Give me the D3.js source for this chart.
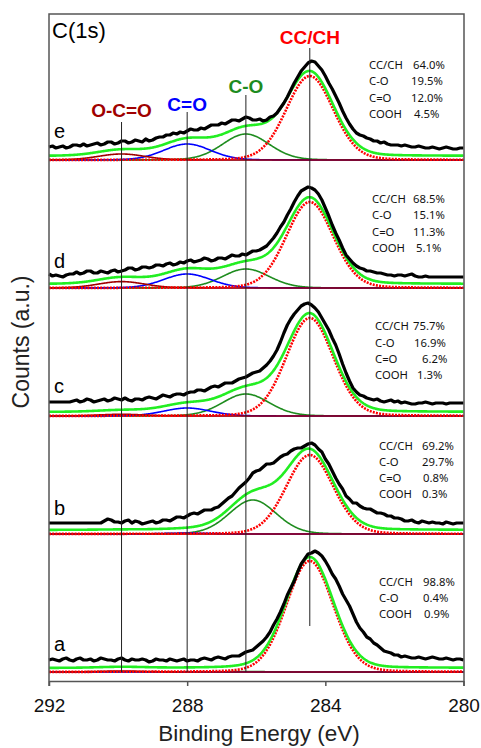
<!DOCTYPE html>
<html>
<head>
<meta charset="utf-8">
<script src="https://cdn.jsdelivr.net/npm/d3@7"></script>
<style>
  body { margin: 0; background: #fff; }
  svg { display: block; }
</style>
</head>
<body>
<svg width="481" height="748"></svg>
<script>
// ---------------- data ----------------
const panels = ["a", "b", "c", "d", "e"];

// measured C(1s) spectra, counts above each panel's baseline, 292 -> 280 eV every 0.1 eV
const energyStart = 292, energyStep = -0.1;
const countsA = [12,13,12,11,13,14,12,11,13,14, 12,12,13,11,12,14,13,12,12,11,
  13,14,12,11,13,12,12,13,12,10, 11,13,12,12,11,13,12,11,12,13,
  11,12,12,11,13,14,13,12,14,15, 14,13,15,16,16,16,18,20,21,22,
  25,28,31,35,40,47,53,60,68,77, 84,91,100,108,113,118,119,121,119,116,
  111,105,98,93,86,78,72,66,58,50, 44,40,35,33,29,27,24,21,20,19,
  17,17,15,16,15,14,14,15,14,13, 14,15,14,13,13,14,13,12,13,13, 12];
const countsB = [11,11,11,11,11,11,11,11,11,11, 11,11,11,11,11,11,13,15,14,12,
  12,11,13,14,11,13,12,10,11,12, 13,11,12,14,14,13,15,17,17,16,
  18,20,21,20,22,24,24,24,26,27, 30,33,36,38,42,46,49,52,56,61,
  63,64,67,70,70,71,74,77,79,80, 83,85,86,86,88,90,91,89,85,82,
  75,70,63,56,50,45,38,35,31,31, 28,26,25,25,23,21,21,20,18,18,
  16,16,15,13,13,14,12,11,13,12, 11,12,11,11,10,12,11,10,11,11, 11];
const countsC = [14,14,14,14,14,14,14,15,16,14, 15,17,16,14,15,16,17,15,16,18,
  17,16,18,16,15,17,17,16,18,19, 18,17,19,21,20,19,21,22,22,21,
  23,24,24,26,26,25,27,29,30,29, 31,33,33,33,35,37,38,39,41,43,
  44,45,48,51,55,60,66,74,83,91, 97,102,106,110,112,113,111,108,104,98,
  92,86,78,71,62,52,43,35,28,24, 21,20,18,17,16,17,15,14,15,16,
  14,15,13,14,13,12,12,13,13,14, 13,12,13,13,13,12,13,13,13,13, 13];
const countsD = [14,12,13,12,11,13,14,14,16,14, 15,17,17,15,15,17,16,15,17,18,
  16,17,18,20,20,18,19,21,21,20, 21,23,23,22,24,25,23,24,26,25,
  27,28,26,27,28,30,29,27,28,30, 30,29,31,33,32,32,34,33,35,37,
  37,38,40,42,46,50,55,61,66,73, 79,86,92,97,99,101,100,98,94,88,
  80,72,63,55,48,40,33,29,25,22, 20,19,17,17,16,15,15,14,13,13,
  12,13,13,12,13,14,12,11,11,12, 11,11,11,11,11,11,11,11,11,11, 11];
const countsE = [13,14,12,13,14,12,13,15,15,14, 16,14,15,16,17,15,16,18,18,16,
  17,19,19,17,18,20,19,18,21,19, 20,22,23,23,25,25,27,26,28,27,
  29,31,30,30,32,31,33,35,35,35, 37,36,38,40,40,39,41,43,42,40,
  40,41,39,40,43,44,47,52,57,63, 70,77,83,89,93,97,99,98,94,90,
  84,77,71,64,57,49,42,36,31,27, 25,24,22,21,19,19,17,18,16,15,
  15,15,14,15,14,13,13,14,13,12, 12,13,12,11,12,13,12,11,11,12, 12];
const spectra = [countsA, countsB, countsC, countsD, countsE];

// fitted components per panel (a..e): peak centre (eV) and peak height
const centerCC   = [284.45, 284.45, 284.45, 284.45, 284.45];
const centerCO   = [286.3, 286.1, 286.3, 286.3, 286.3];
const centerCdO  = [288.0, 288.0, 288.0, 288.0, 288.0];
const centerCOOH = [289.9, 289.9, 289.9, 289.9, 289.9];
const heightCC   = [111, 79, 98, 86, 84];
const heightCO   = [0.45, 34, 22, 19, 26];
const heightCdO  = [0, 0.9, 8, 14, 16];
const heightCOOH = [1, 0.3, 1.7, 6.4, 6];
const peakFwhm = 1.6;       // eV
const gaussLorMix = 0.1;
const fitBackground = 4;

// composition tables
const pctNames = [
  ["CC/CH", "C-O", "COOH"],
  ["CC/CH", "C-O", "C=O", "COOH"],
  ["CC/CH", "C-O", "C=O", "COOH"],
  ["CC/CH", "C-O", "C=O", "COOH"],
  ["CC/CH", "C-O", "C=O", "COOH"]
];
const pctValues = [
  ["98.8%", "0.4%", "0.9%"],
  ["69.2%", "29.7%", "0.8%", "0.3%"],
  ["75.7%", "16.9%", "6.2%", "1.3%"],
  ["68.5%", "15.1%", "11.3%", "5.1%"],
  ["64.0%", "19.5%", "12.0%", "4.5%"]
];

const peakLabels   = ["O-C=O", "C=O", "C-O", "CC/CH"];
const peakEnergies = [289.9, 288.0, 286.3, 284.45];
const xTicks = [292, 288, 284, 280];

// ---------------- layout ----------------
const svg = d3.select("svg");
const frame = { left: 49, right: 464, top: 14, bottom: 681 };
const panelOffset = [9, 147, 265, 393, 521];   // a.u. stacking offsets
const peakColors = ["#a00000", "#0000ff", "#1e8c1e", "#ff0000"];
const peakLabelY = [117, 111, 93, 44];
const peakLineTop = [122, 112, 95, 48];
const peakLineBottom = [672, 672, 672, 626];
const letterY = [651, 515, 393, 268, 138];
const nameX = [379, 379, 375, 372, 369];
const valueX = [
  [423, 423, 424],
  [422, 422, 423, 422],
  [413, 414, 422, 417],
  [413, 413, 413, 416],
  [413, 411, 411, 414]
];
const rowY = [
  [-86, -70, -54],
  [-84, -68, -52, -36],
  [-86, -69, -53, -37],
  [-85, -69, -52, -36],
  [-91, -75, -58, -42]
];

const x = d3.scaleLinear().domain([292, 280]).range([49, 463.5]);
const y = d3.scaleLinear().domain([0, 667]).range([frame.bottom, frame.top]);

function peak(e, c, h) {
  const d = (e - c) / peakFwhm;
  const g = Math.exp(-4 * Math.LN2 * d * d);
  const l = 1 / (1 + 4 * d * d);
  return h * ((1 - gaussLorMix) * g + gaussLorMix * l);
}

const fine = d3.range(292, 279.999, -0.02);
const line = d3.line().x(d => x(d[0])).y(d => y(d[1]));

const plot = svg.append("g");

panels.forEach((p, i) => {
  const off = panelOffset[i];
  const comps = [
    { c: centerCO[i],   h: heightCO[i],   color: peakColors[2] },
    { c: centerCdO[i],  h: heightCdO[i],  color: peakColors[1] },
    { c: centerCOOH[i], h: heightCOOH[i], color: peakColors[0] }
  ];
  // baseline
  plot.append("path")
    .attr("d", line([[292, off], [280, off]]))
    .attr("stroke", "#7030a0").attr("stroke-width", 1.2).attr("fill", "none");

  comps.forEach(cp => {
    plot.append("path")
      .attr("d", line(fine.map(e => [e, off + peak(e, cp.c, cp.h)])))
      .attr("fill", "none")
      .attr("stroke", cp.color)
      .attr("stroke-width", 1.6);
  });

  // CC/CH, dotted red
  plot.append("path")
    .attr("d", line(fine.map(e => [e, off + peak(e, centerCC[i], heightCC[i])])))
    .attr("fill", "none")
    .attr("stroke", "#ff0000")
    .attr("stroke-width", 2.6)
    .attr("stroke-dasharray", "2,1.2");

  // envelope
  plot.append("path")
    .attr("d", line(fine.map(e => [e, off + fitBackground +
      peak(e, centerCC[i], heightCC[i]) + peak(e, centerCO[i], heightCO[i]) +
      peak(e, centerCdO[i], heightCdO[i]) + peak(e, centerCOOH[i], heightCOOH[i])])))
    .attr("fill", "none")
    .attr("stroke", "#22ee22")
    .attr("stroke-width", 2.6);

  // measured data
  plot.append("path")
    .attr("d", line(spectra[i].map((v, k) => [energyStart + k * energyStep, off + v])))
    .attr("fill", "none")
    .attr("stroke", "#000")
    .attr("stroke-width", 3.2)
    .attr("stroke-linejoin", "round");

  // panel letter
  svg.append("text")
    .attr("x", 54).attr("y", letterY[i])
    .attr("font-family", "Liberation Sans, Arial, sans-serif")
    .attr("font-size", 20)
    .text(p);

  // composition table
  const baseY = y(off);
  pctNames[i].forEach((n, r) => {
    svg.append("text")
      .attr("x", nameX[i]).attr("y", baseY + rowY[i][r])
      .attr("font-family", "Noto Sans, sans-serif")
      .attr("font-size", 11.3)
      .attr("fill", "#111")
      .text(n);
    svg.append("text")
      .attr("x", valueX[i][r]).attr("y", baseY + rowY[i][r])
      .attr("font-family", "Noto Sans, sans-serif")
      .attr("font-size", 11.3)
      .attr("fill", "#111")
      .text(pctValues[i][r]);
  });
});

// peak position lines and labels
peakEnergies.forEach((e, k) => {
  svg.append("line")
    .attr("x1", x(e)).attr("x2", x(e))
    .attr("y1", peakLineTop[k]).attr("y2", peakLineBottom[k])
    .attr("stroke", "#222").attr("stroke-width", 1);
  svg.append("text")
    .attr("x", x(e)).attr("y", peakLabelY[k])
    .attr("text-anchor", "middle")
    .attr("font-family", "Liberation Sans, Arial, sans-serif")
    .attr("font-weight", "bold")
    .attr("font-size", 19)
    .attr("fill", peakColors[k])
    .text(peakLabels[k]);
});

// frame
svg.append("path")
  .attr("d", `M${frame.left},${frame.bottom + 5}V${frame.top}H${frame.right}V${frame.bottom + 5}`)
  .attr("fill", "none").attr("stroke", "#555").attr("stroke-width", 1.5);

const xAxis = svg.append("g")
  .attr("transform", `translate(0,${frame.bottom})`)
  .call(d3.axisBottom(x).tickValues(xTicks).tickSize(5).tickPadding(13).tickSizeOuter(0));
xAxis.select(".domain").attr("stroke", "#555").attr("stroke-width", 1.5);
xAxis.selectAll(".tick line").attr("stroke", "#555").attr("stroke-width", 1.5);
xAxis.selectAll("text")
  .attr("font-family", "Liberation Sans, Arial, sans-serif")
  .attr("font-size", 19).attr("fill", "#111");

svg.append("text")
  .attr("x", 52).attr("y", 38)
  .attr("font-family", "Liberation Sans, Arial, sans-serif")
  .attr("font-size", 22)
  .text("C(1s)");

svg.append("text")
  .attr("x", 259).attr("y", 741)
  .attr("text-anchor", "middle")
  .attr("font-family", "Liberation Sans, Arial, sans-serif")
  .attr("font-size", 22.5).attr("fill", "#222")
  .text("Binding Energy (eV)");

svg.append("text")
  .attr("transform", "translate(29,342) rotate(-90)")
  .attr("text-anchor", "middle")
  .attr("font-family", "Liberation Sans, Arial, sans-serif")
  .attr("font-size", 23).attr("fill", "#222")
  .text("Counts (a.u.)");
</script>
</body>
</html>
